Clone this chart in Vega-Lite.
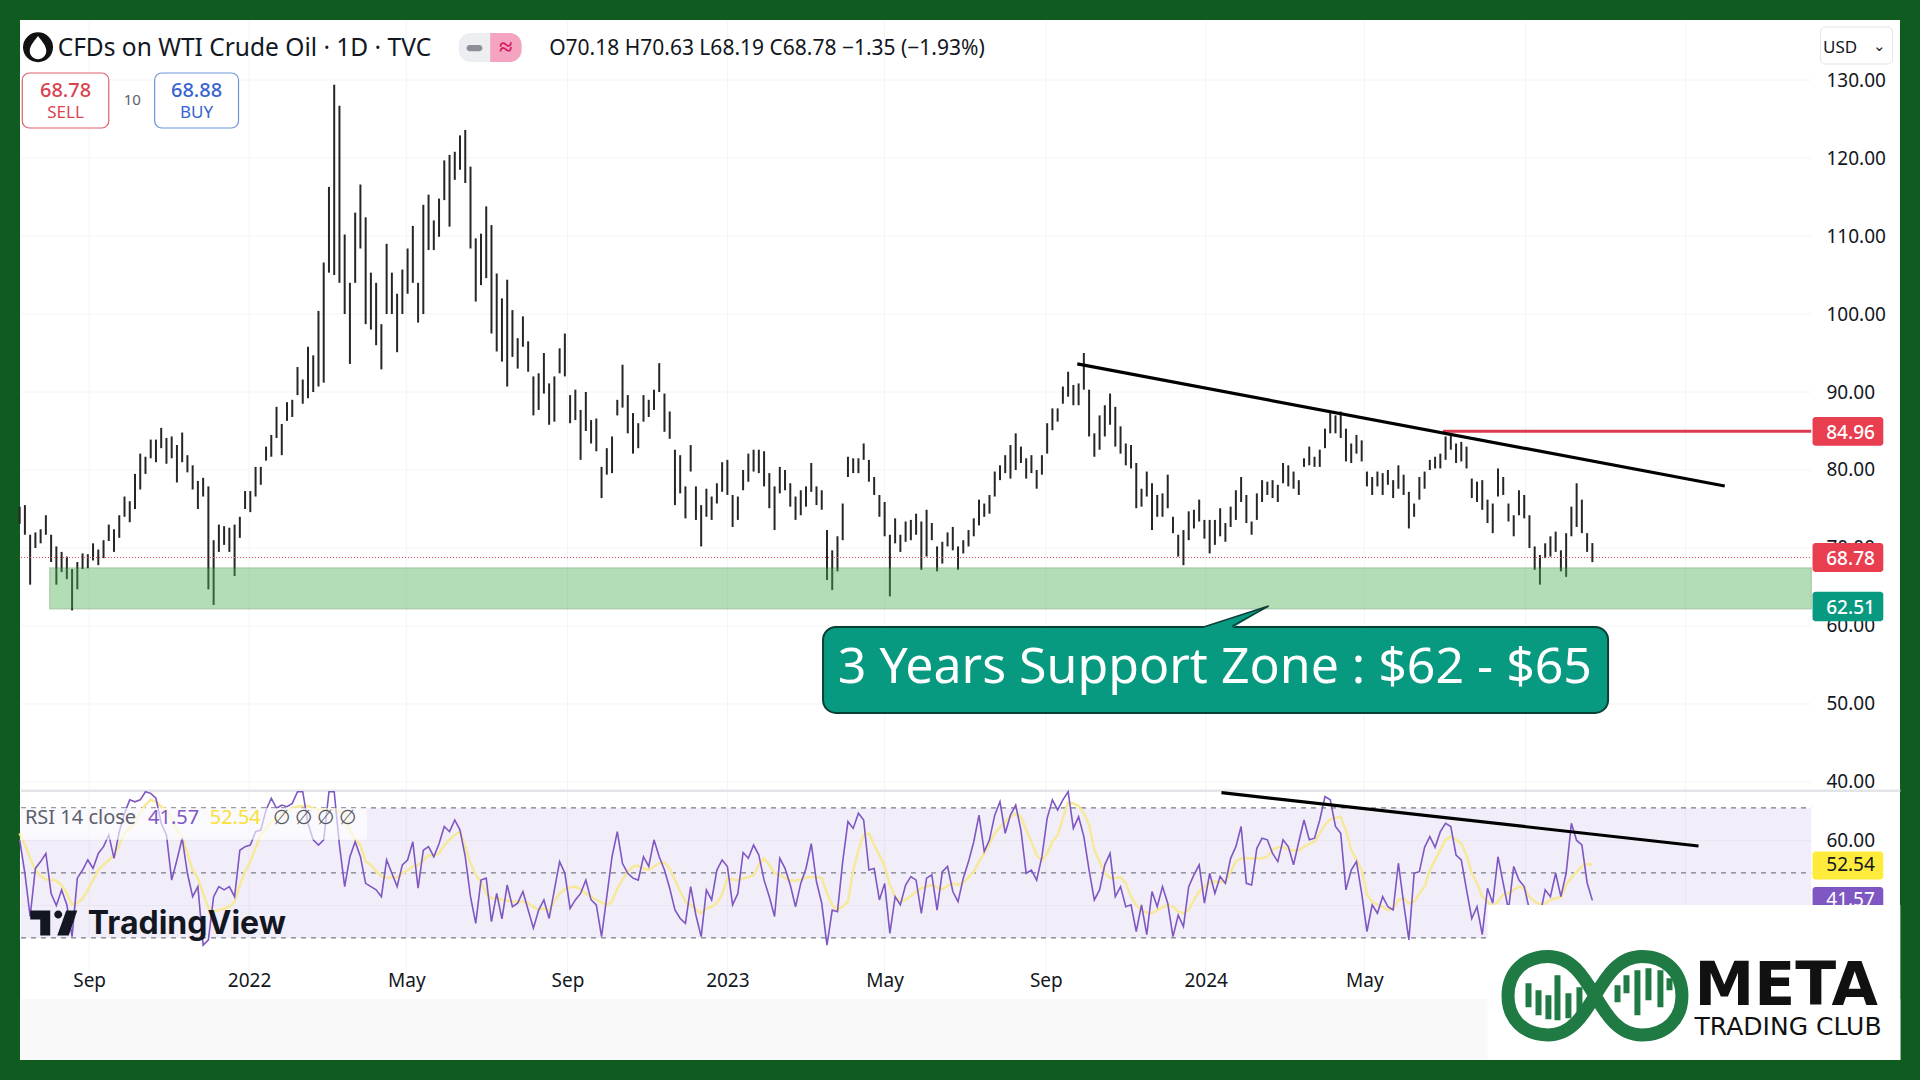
{"$schema":"https://vega.github.io/schema/vega-lite/v6.json","width":1920,"height":1080,"padding":0,"autosize":{"type":"none"},"background":"#ffffff",
"config":{"view":{"stroke":"#0f5b20","strokeWidth":40},"font":"Noto Sans"},
"datasets":{"bars":[
{"d":"2021-07-10","h":75.3,"l":73.1,"r":60.2,"m":62.2},{"d":"2021-07-14","h":75.5,"l":71.7,"r":49.9,"m":58.6},{"d":"2021-07-18","h":71.7,"l":65.3,"r":36.6,"m":54.5},{"d":"2021-07-22","h":72,"l":70,"r":51.4,"m":50.9},{"d":"2021-07-26","h":72.4,"l":70.6,"r":53.5,"m":49},{"d":"2021-07-30","h":74.2,"l":71.7,"r":56,"m":48},{"d":"2021-08-03","h":71.7,"l":68.2,"r":43.7,"m":47.9},{"d":"2021-08-07","h":70.2,"l":65.3,"r":40,"m":47.6},{"d":"2021-08-11","h":69.5,"l":66.9,"r":44.8,"m":46.3},{"d":"2021-08-15","h":68.9,"l":66,"r":40.2,"m":43.7},
{"d":"2021-08-19","h":67.3,"l":62,"r":30.4,"m":40.2},{"d":"2021-08-23","h":68.2,"l":64.7,"r":48.4,"m":40.7},{"d":"2021-08-27","h":69.3,"l":67.3,"r":50.9,"m":42.2},{"d":"2021-08-31","h":69.2,"l":67.4,"r":54,"m":44.8},{"d":"2021-09-04","h":70.6,"l":68.4,"r":51.4,"m":47.9},{"d":"2021-09-08","h":69.8,"l":67.8,"r":56,"m":50.9},{"d":"2021-09-12","h":71,"l":68.7,"r":58.1,"m":52.5},{"d":"2021-09-16","h":73,"l":70.9,"r":61.7,"m":54},{"d":"2021-09-20","h":72.4,"l":69.5,"r":54.5,"m":55.5},{"d":"2021-09-24","h":74.2,"l":71.3,"r":62.7,"m":58.6},
{"d":"2021-09-28","h":76.6,"l":74,"r":68.4,"m":62.2},{"d":"2021-10-02","h":76,"l":73.3,"r":72.5,"m":63.7},{"d":"2021-10-06","h":79.5,"l":75,"r":71.9,"m":65.3},{"d":"2021-10-10","h":82.1,"l":77.5,"r":72.5,"m":68.4},{"d":"2021-10-14","h":81.7,"l":79.5,"r":75,"m":71},{"d":"2021-10-18","h":83.9,"l":81.5,"r":74.5,"m":72.5},{"d":"2021-10-22","h":83.9,"l":81,"r":73,"m":72},{"d":"2021-10-26","h":85.4,"l":82.8,"r":65.3,"m":70.4},{"d":"2021-10-30","h":84.1,"l":80.8,"r":61.7,"m":69.4},{"d":"2021-11-03","h":84.3,"l":81.5,"r":47.8,"m":66.3},
{"d":"2021-11-07","h":83.2,"l":78.4,"r":54,"m":63.2},{"d":"2021-11-11","h":84.8,"l":81,"r":60.7,"m":61.2},{"d":"2021-11-15","h":81.9,"l":79.7,"r":49.9,"m":56},{"d":"2021-11-19","h":80.6,"l":77.5,"r":42.7,"m":50.9},{"d":"2021-11-23","h":78.6,"l":75,"r":45.8,"m":48.4},{"d":"2021-11-27","h":79,"l":76.6,"r":27.8,"m":43.7},{"d":"2021-12-01","h":77.9,"l":64.7,"r":29.4,"m":39.1},{"d":"2021-12-05","h":71,"l":62.7,"r":42.7,"m":38.1},{"d":"2021-12-09","h":73,"l":69.5,"r":45.8,"m":38.6},{"d":"2021-12-13","h":72.8,"l":70.4,"r":44.8,"m":39.1},
{"d":"2021-12-17","h":72.6,"l":69.5,"r":45.8,"m":39.6},{"d":"2021-12-21","h":73,"l":66.4,"r":42.7,"m":41.2},{"d":"2021-12-25","h":74,"l":71.3,"r":57,"m":46.3},{"d":"2021-12-29","h":77.3,"l":75,"r":58.1,"m":50.4},{"d":"2022-01-02","h":77.3,"l":74.6,"r":58.6,"m":53.5},{"d":"2022-01-06","h":80.4,"l":76.6,"r":62.7,"m":57.6},{"d":"2022-01-10","h":80.4,"l":78.1,"r":63.2,"m":61.7},{"d":"2022-01-14","h":83,"l":81.2,"r":69.4,"m":63.7},{"d":"2022-01-18","h":84.5,"l":81.7,"r":73,"m":65.8},{"d":"2022-01-22","h":88.1,"l":84.1,"r":69.9,"m":66.5},
{"d":"2022-01-26","h":85.9,"l":81.9,"r":70.9,"m":67.8},{"d":"2022-01-30","h":88.7,"l":86.3,"r":70.4,"m":68.9},{"d":"2022-02-03","h":89,"l":86.8,"r":71.4,"m":69.9},{"d":"2022-02-07","h":93.2,"l":89.6,"r":75,"m":70.4},{"d":"2022-02-11","h":91.6,"l":88.5,"r":75,"m":70.6},{"d":"2022-02-15","h":95.8,"l":89.2,"r":65.3,"m":70.6},{"d":"2022-02-19","h":94.7,"l":90,"r":60.2,"m":69.9},{"d":"2022-02-23","h":100.4,"l":90.7,"r":58.6,"m":69.4},{"d":"2022-02-27","h":106.6,"l":91.2,"r":60.2,"m":69.4},{"d":"2022-03-03","h":116.3,"l":105.3,"r":75,"m":69.6},
{"d":"2022-03-07","h":129.4,"l":105,"r":75,"m":69.4},{"d":"2022-03-11","h":126.7,"l":104,"r":58.6,"m":68.9},{"d":"2022-03-15","h":110.2,"l":100,"r":45.8,"m":68.4},{"d":"2022-03-19","h":104,"l":93.6,"r":55,"m":63.2},{"d":"2022-03-23","h":113,"l":104,"r":59.6,"m":60.2},{"d":"2022-03-27","h":116.6,"l":108.4,"r":55,"m":58.6},{"d":"2022-03-31","h":112.4,"l":98.7,"r":46.8,"m":53.5},{"d":"2022-04-04","h":105.3,"l":98,"r":45.8,"m":52.5},{"d":"2022-04-08","h":104,"l":96,"r":44.8,"m":50.4},{"d":"2022-04-12","h":98.7,"l":92.9,"r":42.7,"m":49},
{"d":"2022-04-16","h":109,"l":100,"r":54,"m":48.6},{"d":"2022-04-20","h":105.3,"l":100,"r":49.9,"m":48.6},{"d":"2022-04-24","h":102.6,"l":95.1,"r":45.8,"m":48.6},{"d":"2022-04-28","h":105.7,"l":100,"r":52.5,"m":49.9},{"d":"2022-05-02","h":108.4,"l":102.6,"r":54,"m":50.9},{"d":"2022-05-06","h":111.3,"l":104,"r":59.6,"m":52},{"d":"2022-05-10","h":104,"l":98.9,"r":45.3,"m":52.5},{"d":"2022-05-14","h":114,"l":100,"r":57,"m":54},{"d":"2022-05-18","h":115.3,"l":108.2,"r":58.1,"m":55.5},{"d":"2022-05-22","h":112,"l":108.2,"r":55,"m":55.3},
{"d":"2022-05-26","h":114.8,"l":109.9,"r":59,"m":56},{"d":"2022-05-30","h":119.7,"l":114.6,"r":64.3,"m":58.6},{"d":"2022-06-03","h":120.4,"l":111.2,"r":62.7,"m":60.2},{"d":"2022-06-07","h":120.8,"l":117.2,"r":66.3,"m":61.7},{"d":"2022-06-11","h":122.9,"l":118.5,"r":63.2,"m":62.7},{"d":"2022-06-15","h":123.6,"l":116.8,"r":55,"m":58.1},{"d":"2022-06-19","h":118.9,"l":108.4,"r":42.7,"m":52.9},{"d":"2022-06-23","h":109.7,"l":101.6,"r":34.5,"m":49.4},{"d":"2022-06-27","h":110.3,"l":103.7,"r":47.8,"m":47.3},{"d":"2022-07-01","h":113.8,"l":104.6,"r":48.4,"m":43.7},
{"d":"2022-07-05","h":111.4,"l":97.5,"r":35,"m":42.2},{"d":"2022-07-09","h":105.2,"l":95.2,"r":43.7,"m":42.2},{"d":"2022-07-13","h":102,"l":93.9,"r":35.9,"m":41.7},{"d":"2022-07-17","h":104.4,"l":90.7,"r":46.3,"m":41.5},{"d":"2022-07-21","h":100.5,"l":94.5,"r":39.6,"m":41.2},{"d":"2022-07-25","h":96.9,"l":93,"r":40.7,"m":41.2},{"d":"2022-07-29","h":99.7,"l":95.8,"r":44.3,"m":41.2},{"d":"2022-08-02","h":96.5,"l":92.6,"r":38.6,"m":40.7},{"d":"2022-08-06","h":92,"l":87,"r":33,"m":39.6},{"d":"2022-08-10","h":92.4,"l":87.7,"r":38.6,"m":38.8},
{"d":"2022-08-14","h":95,"l":89.8,"r":41.7,"m":39.1},{"d":"2022-08-18","h":91.1,"l":85.8,"r":36,"m":38.4},{"d":"2022-08-22","h":92,"l":86.2,"r":44.8,"m":41.2},{"d":"2022-08-26","h":95.6,"l":92.4,"r":53.5,"m":43.7},{"d":"2022-08-30","h":97.5,"l":92,"r":49.9,"m":45},{"d":"2022-09-03","h":89.6,"l":86,"r":39.1,"m":45.6},{"d":"2022-09-07","h":90.3,"l":86.4,"r":41.7,"m":45.8},{"d":"2022-09-11","h":87.7,"l":81.3,"r":43.7,"m":45},{"d":"2022-09-15","h":90,"l":85,"r":47.8,"m":43.7},{"d":"2022-09-19","h":86.4,"l":83.4,"r":41.7,"m":42.7},
{"d":"2022-09-23","h":86.6,"l":82.4,"r":40.2,"m":41.7},{"d":"2022-09-27","h":80.4,"l":76.4,"r":30.4,"m":40.9},{"d":"2022-10-01","h":82.8,"l":79.4,"r":42.7,"m":40.2},{"d":"2022-10-05","h":84.3,"l":79.6,"r":55,"m":41.2},{"d":"2022-10-09","h":89,"l":87,"r":62.7,"m":45.3},{"d":"2022-10-13","h":93.5,"l":88,"r":52.9,"m":48},{"d":"2022-10-17","h":89.6,"l":84.7,"r":49.9,"m":50.4},{"d":"2022-10-21","h":87.3,"l":82.1,"r":48.4,"m":52},{"d":"2022-10-25","h":86,"l":82.8,"r":47.8,"m":52.2},{"d":"2022-10-29","h":89.6,"l":86.2,"r":55,"m":51.4},
{"d":"2022-11-02","h":89,"l":86.8,"r":52,"m":50.9},{"d":"2022-11-06","h":90.3,"l":87.7,"r":60.2,"m":52},{"d":"2022-11-10","h":93.7,"l":90,"r":55,"m":53},{"d":"2022-11-14","h":89.8,"l":84.9,"r":50.9,"m":53.2},{"d":"2022-11-18","h":87.5,"l":84,"r":45.3,"m":51.4},{"d":"2022-11-22","h":82.6,"l":75.5,"r":38.6,"m":47.8},{"d":"2022-11-26","h":81.9,"l":77,"r":36,"m":44.3},{"d":"2022-11-30","h":77.9,"l":73.8,"r":34.5,"m":41.2},{"d":"2022-12-04","h":83.2,"l":79.8,"r":45.8,"m":40.2},{"d":"2022-12-08","h":77.9,"l":73.6,"r":37,"m":38.8},
{"d":"2022-12-12","h":75.5,"l":70.2,"r":30.4,"m":37.6},{"d":"2022-12-16","h":77.6,"l":74,"r":44.8,"m":39.1},{"d":"2022-12-20","h":76.6,"l":73.6,"r":41.7,"m":39.6},{"d":"2022-12-24","h":78.3,"l":75.7,"r":50.9,"m":40.7},{"d":"2022-12-28","h":81,"l":77.2,"r":54,"m":43.3},{"d":"2023-01-01","h":81.3,"l":76.8,"r":52,"m":48.4},{"d":"2023-01-05","h":76.8,"l":72.7,"r":40.2,"m":48},{"d":"2023-01-09","h":76.6,"l":73.6,"r":43.7,"m":47.8},{"d":"2023-01-13","h":80,"l":77.4,"r":56.3,"m":48.4},{"d":"2023-01-17","h":82.1,"l":78.5,"r":54.5,"m":48.7},
{"d":"2023-01-21","h":82.6,"l":79.8,"r":58.6,"m":49.4},{"d":"2023-01-25","h":82.6,"l":79.6,"r":55.5,"m":52.5},{"d":"2023-01-29","h":82.4,"l":77.9,"r":47.8,"m":54.5},{"d":"2023-02-02","h":79.6,"l":75.1,"r":42.7,"m":52.5},{"d":"2023-02-06","h":77.9,"l":72.3,"r":36.6,"m":49.9},{"d":"2023-02-10","h":80.4,"l":77,"r":54.5,"m":49.4},{"d":"2023-02-14","h":80,"l":77.4,"r":51.4,"m":48.4},{"d":"2023-02-18","h":78.3,"l":75.3,"r":46.3,"m":47.8},{"d":"2023-02-22","h":76.6,"l":73.6,"r":39.6,"m":47.6},{"d":"2023-02-26","h":77.4,"l":74.2,"r":46.8,"m":48},
{"d":"2023-03-02","h":77.9,"l":75.3,"r":51.4,"m":48.7},{"d":"2023-03-06","h":80.9,"l":77.2,"r":59,"m":48.7},{"d":"2023-03-10","h":77.9,"l":75.5,"r":47.3,"m":48.7},{"d":"2023-03-14","h":77.4,"l":74.9,"r":40.7,"m":48.4},{"d":"2023-03-18","h":72.3,"l":65.9,"r":27.8,"m":43.7},{"d":"2023-03-22","h":69.7,"l":64.6,"r":38.6,"m":40.2},{"d":"2023-03-26","h":71.5,"l":67,"r":38.1,"m":38.6},{"d":"2023-03-30","h":75.7,"l":71,"r":53.5,"m":39.6},{"d":"2023-04-03","h":81.7,"l":79.1,"r":65.8,"m":41.2},{"d":"2023-04-07","h":81.5,"l":79.6,"r":63.7,"m":50.9},
{"d":"2023-04-11","h":81.5,"l":79.6,"r":68.4,"m":57.1},{"d":"2023-04-15","h":83.4,"l":81.3,"r":66.3,"m":61.7},{"d":"2023-04-19","h":81.3,"l":78.5,"r":50.9,"m":62.2},{"d":"2023-04-23","h":79.1,"l":76.8,"r":51.4,"m":58.6},{"d":"2023-04-27","h":76.8,"l":74,"r":41.7,"m":55.5},{"d":"2023-05-01","h":75.9,"l":71.5,"r":46.8,"m":52},{"d":"2023-05-05","h":71.7,"l":63.8,"r":31.4,"m":46.3},{"d":"2023-05-09","h":73.8,"l":70.6,"r":42.7,"m":42.7},{"d":"2023-05-13","h":71.7,"l":69.5,"r":40.2,"m":41.2},{"d":"2023-05-17","h":73.4,"l":70.8,"r":46.3,"m":41.7},
{"d":"2023-05-21","h":73.6,"l":71,"r":48.9,"m":42.9},{"d":"2023-05-25","h":74.4,"l":71.7,"r":47.8,"m":44.3},{"d":"2023-05-29","h":73.4,"l":67.2,"r":37.6,"m":45.3},{"d":"2023-06-02","h":74.9,"l":68.9,"r":48.4,"m":45.8},{"d":"2023-06-06","h":73.2,"l":71,"r":49.4,"m":46.3},{"d":"2023-06-10","h":70.2,"l":67,"r":38.6,"m":45.6},{"d":"2023-06-14","h":70.8,"l":68,"r":50.4,"m":45},{"d":"2023-06-18","h":72,"l":70.2,"r":52,"m":46},{"d":"2023-06-22","h":72.7,"l":69.7,"r":44.3,"m":46.8},{"d":"2023-06-26","h":70.2,"l":67.2,"r":41.2,"m":46.3},
{"d":"2023-06-30","h":71,"l":69.3,"r":48.4,"m":47},{"d":"2023-07-04","h":72.3,"l":70.2,"r":53.5,"m":48.7},{"d":"2023-07-08","h":73.8,"l":71.5,"r":59.6,"m":50.4},{"d":"2023-07-12","h":76.2,"l":72.9,"r":67.8,"m":53.5},{"d":"2023-07-16","h":75.7,"l":74,"r":56.6,"m":56},{"d":"2023-07-20","h":76.8,"l":74.4,"r":60.2,"m":59},{"d":"2023-07-24","h":79.8,"l":76.6,"r":67.8,"m":62.2},{"d":"2023-07-28","h":80.6,"l":78.7,"r":71.9,"m":64.1},{"d":"2023-08-01","h":81.9,"l":79.6,"r":62.2,"m":65.8},{"d":"2023-08-05","h":83.2,"l":78.9,"r":67.8,"m":67.3},
{"d":"2023-08-09","h":84.7,"l":80,"r":70.9,"m":68.2},{"d":"2023-08-13","h":83,"l":80.9,"r":63.2,"m":67.3},{"d":"2023-08-17","h":81.5,"l":78.9,"r":49.9,"m":63.2},{"d":"2023-08-21","h":81.9,"l":79.6,"r":50.9,"m":59.6},{"d":"2023-08-25","h":80,"l":77.6,"r":47.8,"m":55.5},{"d":"2023-08-29","h":81.9,"l":79.4,"r":55,"m":53.8},{"d":"2023-09-02","h":86,"l":82.1,"r":66.8,"m":56},{"d":"2023-09-06","h":87.9,"l":85.1,"r":72.5,"m":59.6},{"d":"2023-09-10","h":87.9,"l":86.2,"r":69.4,"m":61.7},{"d":"2023-09-14","h":90.7,"l":88.5,"r":72.5,"m":66.8},
{"d":"2023-09-18","h":92.6,"l":89.4,"r":75,"m":71.6},{"d":"2023-09-22","h":90.9,"l":88.3,"r":63.7,"m":71.4},{"d":"2023-09-26","h":91.1,"l":88.3,"r":67.3,"m":70.6},{"d":"2023-09-30","h":95,"l":90.3,"r":61.2,"m":68.4},{"d":"2023-10-04","h":90.3,"l":84.3,"r":50.9,"m":64.8},{"d":"2023-10-08","h":84.7,"l":81.7,"r":41.7,"m":57.1},{"d":"2023-10-12","h":87,"l":82.6,"r":44.8,"m":53.5},{"d":"2023-10-16","h":88.3,"l":84.3,"r":52.5,"m":49.9},{"d":"2023-10-20","h":89.8,"l":85.8,"r":56,"m":48.4},{"d":"2023-10-24","h":88.1,"l":83,"r":42.7,"m":48.4},
{"d":"2023-10-28","h":85.6,"l":82.1,"r":45.8,"m":48.7},{"d":"2023-11-01","h":83.4,"l":80.6,"r":39.6,"m":46.8},{"d":"2023-11-05","h":83.2,"l":80.2,"r":40.2,"m":42.7},{"d":"2023-11-09","h":80.9,"l":75.1,"r":32,"m":40.2},{"d":"2023-11-13","h":77.6,"l":75.3,"r":40.2,"m":38.6},{"d":"2023-11-17","h":79.8,"l":76.6,"r":31,"m":37.8},{"d":"2023-11-21","h":78.3,"l":72.3,"r":44.3,"m":37.6},{"d":"2023-11-25","h":76.8,"l":74,"r":39.6,"m":38.6},{"d":"2023-11-29","h":77,"l":74,"r":45.8,"m":39.4},{"d":"2023-12-03","h":79.4,"l":75.1,"r":40.7,"m":40.2},
{"d":"2023-12-07","h":74,"l":71.9,"r":30.4,"m":39.6},{"d":"2023-12-11","h":71.7,"l":68.9,"r":37,"m":38.1},{"d":"2023-12-15","h":72.3,"l":67.8,"r":33.5,"m":37.6},{"d":"2023-12-19","h":74.7,"l":71,"r":45.8,"m":38.6},{"d":"2023-12-23","h":74.9,"l":72.5,"r":49.4,"m":41.7},{"d":"2023-12-27","h":76.2,"l":73.4,"r":52.5,"m":44.3},{"d":"2023-12-31","h":73.6,"l":71.2,"r":40.7,"m":45.8},{"d":"2024-01-04","h":73.6,"l":69.3,"r":49.9,"m":47},{"d":"2024-01-08","h":73.6,"l":70.4,"r":43.7,"m":47.4},{"d":"2024-01-12","h":75.1,"l":71.5,"r":48.9,"m":47.2},
{"d":"2024-01-16","h":73.2,"l":70.8,"r":46.8,"m":47.2},{"d":"2024-01-20","h":75.3,"l":72.7,"r":54.5,"m":50.4},{"d":"2024-01-24","h":77.4,"l":73.6,"r":58.1,"m":53.5},{"d":"2024-01-28","h":79.1,"l":75.9,"r":64.3,"m":54.5},{"d":"2024-02-01","h":76.8,"l":73.2,"r":46.8,"m":54.5},{"d":"2024-02-05","h":73.4,"l":71.7,"r":46.3,"m":54.5},{"d":"2024-02-09","h":77,"l":73.6,"r":57.6,"m":54.5},{"d":"2024-02-13","h":78.7,"l":75.9,"r":60.7,"m":54.5},{"d":"2024-02-17","h":78.5,"l":76.8,"r":60.2,"m":55},{"d":"2024-02-21","h":78.7,"l":76.4,"r":56,"m":57.1},
{"d":"2024-02-25","h":78.1,"l":75.9,"r":53.5,"m":57.9},{"d":"2024-02-29","h":80.9,"l":78.3,"r":60.2,"m":57.9},{"d":"2024-03-04","h":80.6,"l":77.9,"r":58.1,"m":57.3},{"d":"2024-03-08","h":79.8,"l":77.6,"r":52.5,"m":56.9},{"d":"2024-03-12","h":78.7,"l":76.8,"r":59.6,"m":56.9},{"d":"2024-03-16","h":81.5,"l":80.4,"r":66.3,"m":58.1},{"d":"2024-03-20","h":83,"l":80.6,"r":60.2,"m":59},{"d":"2024-03-24","h":81.7,"l":80.4,"r":60.7,"m":59.6},{"d":"2024-03-28","h":82.6,"l":80.4,"r":66.3,"m":62.2},{"d":"2024-04-01","h":85.3,"l":82.8,"r":73.5,"m":64.8},
{"d":"2024-04-05","h":87.3,"l":84.7,"r":72.5,"m":66.5},{"d":"2024-04-09","h":87,"l":84.7,"r":64.3,"m":66.9},{"d":"2024-04-13","h":87.5,"l":84.1,"r":62.2,"m":67.3},{"d":"2024-04-17","h":85.3,"l":81.1,"r":44.8,"m":63},{"d":"2024-04-21","h":83.4,"l":80.9,"r":50.9,"m":57.1},{"d":"2024-04-25","h":84.5,"l":82.1,"r":53.5,"m":54},{"d":"2024-04-29","h":83.8,"l":81.1,"r":43.7,"m":50.9},{"d":"2024-05-03","h":79.8,"l":77.9,"r":32,"m":43.3},{"d":"2024-05-07","h":79.1,"l":76.8,"r":40.2,"m":41.2},{"d":"2024-05-11","h":79.8,"l":77.9,"r":37.6,"m":40.2},
{"d":"2024-05-15","h":79.6,"l":76.8,"r":42.7,"m":39.6},{"d":"2024-05-19","h":80,"l":78.1,"r":39.6,"m":38.6},{"d":"2024-05-23","h":78.7,"l":76.4,"r":38.6,"m":39.1},{"d":"2024-05-27","h":80.6,"l":77.6,"r":53,"m":41.7},{"d":"2024-05-31","h":79.4,"l":76.8,"r":40.7,"m":42.2},{"d":"2024-06-04","h":77.2,"l":72.5,"r":29.4,"m":40.7},{"d":"2024-06-08","h":75.7,"l":74,"r":49.9,"m":41.2},{"d":"2024-06-12","h":79.1,"l":76.2,"r":50.4,"m":43.7},{"d":"2024-06-16","h":79.8,"l":77.6,"r":57.9,"m":45.8},{"d":"2024-06-20","h":81.3,"l":80,"r":61.2,"m":50.9},
{"d":"2024-06-24","h":81.7,"l":80.2,"r":57.9,"m":54},{"d":"2024-06-28","h":82.1,"l":80.2,"r":62.7,"m":57.1},{"d":"2024-07-02","h":84.3,"l":81.3,"r":65.3,"m":60.2},{"d":"2024-07-06","h":84.7,"l":82.6,"r":64.3,"m":61.2},{"d":"2024-07-10","h":83.4,"l":80.9,"r":55.5,"m":60.2},{"d":"2024-07-14","h":83.6,"l":81.1,"r":54,"m":59},{"d":"2024-07-18","h":83,"l":80.2,"r":44.8,"m":55.5},{"d":"2024-07-22","h":78.9,"l":76.4,"r":36,"m":49.9},{"d":"2024-07-26","h":78.5,"l":75.9,"r":39.6,"m":46.8},{"d":"2024-07-30","h":78.7,"l":74.9,"r":31,"m":42.7},
{"d":"2024-08-03","h":76.2,"l":73.2,"r":45.3,"m":41.2},{"d":"2024-08-07","h":75.7,"l":71.9,"r":40.7,"m":39.6},{"d":"2024-08-11","h":80.2,"l":76.6,"r":55,"m":41.2},{"d":"2024-08-15","h":79.1,"l":76.8,"r":46.8,"m":43.3},{"d":"2024-08-19","h":75.7,"l":73.4,"r":38.6,"m":43.7},{"d":"2024-08-23","h":74.2,"l":71.5,"r":52,"m":44.8},{"d":"2024-08-27","h":77.4,"l":74.2,"r":47.8,"m":45.8},{"d":"2024-08-31","h":76.8,"l":73.8,"r":45.8,"m":45.3},{"d":"2024-09-04","h":74.2,"l":70,"r":38.6,"m":42.7},{"d":"2024-09-08","h":70.2,"l":67.2,"r":36,"m":41.2},
{"d":"2024-09-12","h":69.1,"l":65.3,"r":37,"m":40.4},{"d":"2024-09-16","h":70.6,"l":68.7,"r":44.8,"m":40.6},{"d":"2024-09-20","h":71.5,"l":68.9,"r":42.7,"m":41.7},{"d":"2024-09-24","h":72.1,"l":69.5,"r":49.9,"m":42.2},{"d":"2024-09-28","h":69.7,"l":67,"r":42.7,"m":42.5},{"d":"2024-10-02","h":71.9,"l":66.3,"r":49.9,"m":46.3},{"d":"2024-10-06","h":75.3,"l":71.5,"r":65.3,"m":48.6},{"d":"2024-10-10","h":78.3,"l":72.7,"r":60,"m":50.4},{"d":"2024-10-14","h":76.2,"l":71.9,"r":58.6,"m":52},{"d":"2024-10-18","h":71.9,"l":69.5,"r":47,"m":52.8},
{"d":"2024-10-22","h":70.63,"l":68.19,"r":41.57,"m":52.54}]},
"encoding":{"x":{"field":"d","type":"temporal","scale":{"domain":["2021-06-25","2025-06-29"]},"axis":{"orient":"bottom","offset":-112,"title":null,"grid":false,"ticks":false,"domain":false,"labelPadding":3,"labelFont":"Noto Sans","labelFontSize":19,"labelColor":"#131722","labelOverlap":false,"values":["2021-09-01","2022-01-01","2022-05-01","2022-09-01","2023-01-01","2023-05-01","2023-09-01","2024-01-01","2024-05-01"],"labelExpr":"month(datum.value)==0?timeFormat(datum.value,'%Y'):timeFormat(datum.value,'%b')"}}},
"layer":[
{"encoding":{"y":{"field":"p","type":"quantitative","scale":{"domain":[-13.7,318.6]},"axis":{"orient":"right","offset":-108,"title":null,"grid":false,"ticks":false,"domain":false,"labelPadding":14,"labelFont":"Noto Sans","labelFontSize":19,"labelColor":"#131722","values":[60],"format":".2f"}}},
"layer":[
{"data":{"values":[{"d":"2021-07-11","d2":"2025-06-14","p":11.2,"p2":-7.5}]},"mark":{"type":"rect","color":"#f9f9fa"},"encoding":{"x2":{"field":"d2"},"y2":{"field":"p2"}}},
{"data":{"values":[{"d":"2021-09-01","p":312,"p2":18.6},{"d":"2022-01-01","p":312,"p2":18.6},{"d":"2022-05-01","p":312,"p2":18.6},{"d":"2022-09-01","p":312,"p2":18.6},{"d":"2023-01-01","p":312,"p2":18.6},{"d":"2023-05-01","p":312,"p2":18.6},{"d":"2023-09-01","p":312,"p2":18.6},{"d":"2024-01-01","p":312,"p2":18.6},{"d":"2024-05-01","p":312,"p2":18.6},{"d":"2024-09-01","p":312,"p2":18.6},{"d":"2025-01-01","p":312,"p2":18.6}]},"mark":{"type":"rule","color":"#f3f4f6","strokeWidth":1},"encoding":{"y2":{"field":"p2"}}},
{"data":{"values":[{"d":"2021-07-11","d2":"2025-04-07","p":70,"p2":30}]},"mark":{"type":"rect","color":"#7e57c2","opacity":0.1},"encoding":{"x2":{"field":"d2"},"y2":{"field":"p2"}}},
{"data":{"values":[{"d":"2021-07-11","d2":"2025-04-07","p":60},{"d":"2021-07-11","d2":"2025-04-07","p":40}]},"mark":{"type":"rule","color":"#e9e6f0","strokeWidth":1},"encoding":{"x2":{"field":"d2"}}},
{"data":{"values":[{"d":"2021-07-11","d2":"2025-04-07","p":70},{"d":"2021-07-11","d2":"2025-04-07","p":50},{"d":"2021-07-11","d2":"2025-04-07","p":30}]},"mark":{"type":"rule","color":"#787b86","strokeWidth":1.2,"strokeDash":[5,5]},"encoding":{"x2":{"field":"d2"}}},
{"data":{"values":[{"d":"2021-07-11","d2":"2025-06-14","p":75.3}]},"mark":{"type":"rule","color":"#e3e4e8","strokeWidth":2.5},"encoding":{"x2":{"field":"d2"}}},
{"data":{"name":"bars"},"mark":{"type":"line","color":"#f6e99c","strokeWidth":2.6},"encoding":{"y":{"field":"m","type":"quantitative","scale":{"domain":[-13.7,318.6]},"axis":{"orient":"right","offset":-108,"title":null,"grid":false,"ticks":false,"domain":false,"labelPadding":14,"labelFont":"Noto Sans","labelFontSize":19,"labelColor":"#131722","values":[60],"format":".2f"}}}},
{"data":{"name":"bars"},"mark":{"type":"line","color":"#7e57c2","strokeWidth":1.6},"encoding":{"y":{"field":"r","type":"quantitative","scale":{"domain":[-13.7,318.6]},"axis":{"orient":"right","offset":-108,"title":null,"grid":false,"ticks":false,"domain":false,"labelPadding":14,"labelFont":"Noto Sans","labelFontSize":19,"labelColor":"#131722","values":[60],"format":".2f"}}}},
{"data":{"values":[{"d":"2024-01-13","p":74.7},{"d":"2025-01-11","p":58.3}]},"mark":{"type":"line","color":"#000000","strokeWidth":3.2}},
{"data":{"values":[{"d":"2021-07-11","d2":"2022-04-01","p":70,"p2":60.2}]},"mark":{"type":"rect","color":"#ffffff","opacity":0.62},"encoding":{"x2":{"field":"d2"},"y2":{"field":"p2"}}},
{"data":{"values":[{"d":"2021-07-14","p":66.9,"t":"RSI 14 close"}]},"mark":{"type":"text","align":"left","baseline":"middle","fontSize":20,"color":"#5d606b"},"encoding":{"text":{"field":"t"}}},
{"data":{"values":[{"d":"2021-10-16","p":66.9,"t":"41.57"}]},"mark":{"type":"text","align":"left","baseline":"middle","fontSize":20,"color":"#7e57c2"},"encoding":{"text":{"field":"t"}}},
{"data":{"values":[{"d":"2021-12-02","p":66.9,"t":"52.54"}]},"mark":{"type":"text","align":"left","baseline":"middle","fontSize":20,"color":"#f7e23a"},"encoding":{"text":{"field":"t"}}},
{"data":{"values":[{"d":"2022-01-19","p":66.9,"t":"∅ ∅ ∅ ∅"}]},"mark":{"type":"text","align":"left","baseline":"middle","fontSize":20,"color":"#555862"},"encoding":{"text":{"field":"t"}}},
{"data":{"values":[{"d":"2025-04-08","d2":"2025-06-01","p":56.6,"p2":48}]},"mark":{"type":"rect","color":"#ffeb3b","cornerRadius":3},"encoding":{"x2":{"field":"d2"},"y2":{"field":"p2"}}},
{"data":{"values":[{"d":"2025-04-08","d2":"2025-06-01","p":45.7,"p2":37.4}]},"mark":{"type":"rect","color":"#7e57c2","cornerRadius":3},"encoding":{"x2":{"field":"d2"},"y2":{"field":"p2"}}},
{"data":{"values":[{"d":"2025-05-07","p":52.3,"t":"52.54"}]},"mark":{"type":"text","align":"center","baseline":"middle","fontSize":19,"color":"#131722"},"encoding":{"text":{"field":"t"}}},
{"data":{"values":[{"d":"2025-05-07","p":41.57,"t":"41.57"}]},"mark":{"type":"text","align":"center","baseline":"middle","fontSize":19,"color":"#ffffff"},"encoding":{"text":{"field":"t"}}},
{"data":{"values":[{"d":"2021-08-05","p":34.6}]},"mark":{"type":"point","filled":true,"size":2209,"opacity":1,"color":"#131722","strokeWidth":0,"shape":"M-1,-0.532 L-0.149,-0.532 L-0.149,0.532 L-0.574,0.532 L-0.574,-0.149 L-1,-0.149 Z M0.021,-0.362 a0.17,0.17 0 1,0 0.34,0 a0.17,0.17 0 1,0 -0.34,0 Z M0.532,-0.532 L1,-0.532 L0.638,0.532 L0.149,0.532 Z"}},
{"data":{"values":[{"d":"2021-08-31","p":34.4,"t":"TradingView"}]},"mark":{"type":"text","align":"left","baseline":"middle","fontSize":32,"font":"Inter","fontWeight":700,"color":"#131722"},"encoding":{"text":{"field":"t"}}}
]},
{"encoding":{"y":{"field":"p","type":"quantitative","scale":{"domain":[1.79,140.26]},"axis":{"orient":"right","offset":-108,"title":null,"grid":false,"ticks":false,"domain":false,"labelPadding":14,"labelFont":"Noto Sans","labelFontSize":19,"labelColor":"#131722","values":[40,50,60,70,80,90,100,110,120,130],"format":".2f"}}},
"layer":[
{"data":{"values":[{"d":"2021-07-11","d2":"2025-04-07","p":40},{"d":"2021-07-11","d2":"2025-04-07","p":50},{"d":"2021-07-11","d2":"2025-04-07","p":60},{"d":"2021-07-11","d2":"2025-04-07","p":70},{"d":"2021-07-11","d2":"2025-04-07","p":80},{"d":"2021-07-11","d2":"2025-04-07","p":90},{"d":"2021-07-11","d2":"2025-04-07","p":100},{"d":"2021-07-11","d2":"2025-04-07","p":110},{"d":"2021-07-11","d2":"2025-04-07","p":120},{"d":"2021-07-11","d2":"2025-04-07","p":130}]},"mark":{"type":"rule","color":"#f3f4f6","strokeWidth":1},"encoding":{"x2":{"field":"d2"}}},
{"data":{"name":"bars"},"mark":{"type":"rule","color":"#262626","strokeWidth":2},"encoding":{"y":{"field":"h","type":"quantitative","scale":{"domain":[1.79,140.26]},"axis":{"orient":"right","offset":-108,"title":null,"grid":false,"ticks":false,"domain":false,"labelPadding":14,"labelFont":"Noto Sans","labelFontSize":19,"labelColor":"#131722","values":[40,50,60,70,80,90,100,110,120,130],"format":".2f"}},"y2":{"field":"l"}}},
{"data":{"values":[{"d":"2021-07-11","d2":"2025-04-07","p":68.78}]},"mark":{"type":"rule","color":"#d9434f","strokeWidth":1,"strokeDash":[1,2]},"encoding":{"x2":{"field":"d2"}}},
{"data":{"values":[{"d":"2021-08-02","d2":"2025-04-07","p":67.45,"p2":62.2}]},"mark":{"type":"rect","color":"#4caf50","opacity":0.42,"stroke":"#2e7d32","strokeWidth":1.5,"strokeOpacity":0.8},"encoding":{"x2":{"field":"d2"},"y2":{"field":"p2"}}},
{"data":{"values":[{"d":"2024-06-30","d2":"2025-04-07","p":84.96}]},"mark":{"type":"rule","color":"#dc3a50","strokeWidth":3},"encoding":{"x2":{"field":"d2"}}},
{"data":{"values":[{"d":"2023-09-25","p":93.6},{"d":"2025-01-31","p":77.95}]},"mark":{"type":"line","color":"#000000","strokeWidth":3.2}},
{"data":{"values":[{"d":"2025-04-08","d2":"2025-06-01","p":86.81,"p2":83.11}]},"mark":{"type":"rect","color":"#e83e50","cornerRadius":3},"encoding":{"x2":{"field":"d2"},"y2":{"field":"p2"}}},
{"data":{"values":[{"d":"2025-04-08","d2":"2025-06-01","p":70.63,"p2":66.93}]},"mark":{"type":"rect","color":"#e83e50","cornerRadius":3},"encoding":{"x2":{"field":"d2"},"y2":{"field":"p2"}}},
{"data":{"values":[{"d":"2025-04-08","d2":"2025-06-01","p":64.4,"p2":60.6}]},"mark":{"type":"rect","color":"#089981","cornerRadius":3},"encoding":{"x2":{"field":"d2"},"y2":{"field":"p2"}}},
{"data":{"values":[{"d":"2025-05-07","p":84.8,"t":"84.96"},{"d":"2025-05-07","p":68.62,"t":"68.78"},{"d":"2025-05-07","p":62.35,"t":"62.51"}]},"mark":{"type":"text","align":"center","baseline":"middle","fontSize":19,"fontWeight":500,"color":"#ffffff"},"encoding":{"text":{"field":"t"}}},
{"data":{"values":[{"d":"2023-03-15","d2":"2024-11-03","p":59.87,"p2":48.85}]},"mark":{"type":"rect","color":"#089981","cornerRadius":13,"stroke":"#0a3f36","strokeWidth":2},"encoding":{"x2":{"field":"d2"},"y2":{"field":"p2"}}},
{"data":{"values":[{"d":"2023-12-31","p":59.9,"p2":59.7},{"d":"2024-01-21","p":61,"p2":59.7},{"d":"2024-02-18","p":62.56,"p2":62.56}]},"mark":{"type":"area","color":"#089981"}, "encoding":{"y2":{"field":"p2"}}},
{"data":{"values":[{"d":"2023-12-31","p":59.9},{"d":"2024-02-18","p":62.56},{"d":"2024-01-21","p":59.95}]},"mark":{"type":"line","color":"#0a3f36","strokeWidth":1.5,"order":false}},
{"data":{"values":[{"d":"2024-01-08","p":54.6,"t":"3 Years Support Zone : $62 - $65"}]},"mark":{"type":"text","align":"center","baseline":"middle","fontSize":50,"color":"#ffffff"},"encoding":{"text":{"field":"t"}}},
{"data":{"values":[{"d":"2021-07-24","p":134.2}]},"mark":{"type":"point","shape":"circle","filled":true,"size":900,"opacity":1,"color":"#111111","strokeWidth":0}},
{"data":{"values":[{"d":"2021-07-24","p":134.2}]},"mark":{"type":"point","filled":true,"size":900,"opacity":1,"color":"#ffffff","strokeWidth":0,"shape":"M0,-0.75 C0.35,-0.3 0.55,-0.05 0.55,0.25 A0.55,0.55 0 0 1 -0.55,0.25 C-0.55,-0.05 -0.35,-0.3 0,-0.75 Z"}},
{"data":{"values":[{"d":"2021-08-08","p":134,"t":"CFDs on WTI Crude Oil · 1D · TVC"}]},"mark":{"type":"text","align":"left","baseline":"middle","fontSize":24.5,"color":"#131722"},"encoding":{"text":{"field":"t"}}},
{"data":{"values":[{"d":"2022-06-10","d2":"2022-07-28","p":136.03,"p2":132.3}]},"mark":{"type":"rect","color":"#eceef2","cornerRadius":12},"encoding":{"x2":{"field":"d2"},"y2":{"field":"p2"}}},
{"data":{"values":[{"d":"2022-07-04","d2":"2022-07-28","p":136.03,"p2":132.3}]},"mark":{"type":"rect","color":"#f4a3c0","cornerRadiusTopRight":12,"cornerRadiusBottomRight":12},"encoding":{"x2":{"field":"d2"},"y2":{"field":"p2"}}},
{"data":{"values":[{"d":"2022-06-16","d2":"2022-06-28","p":134.5,"p2":133.7}]},"mark":{"type":"rect","color":"#8c8f98","cornerRadius":3},"encoding":{"x2":{"field":"d2"},"y2":{"field":"p2"}}},
{"data":{"values":[{"d":"2022-07-16","p":134.1,"t":"≈"}]},"mark":{"type":"text","align":"center","baseline":"middle","fontSize":24,"fontWeight":700,"color":"#d81b60"},"encoding":{"text":{"field":"t"}}},
{"data":{"values":[{"d":"2022-08-18","p":134,"t":"O70.18  H70.63  L68.19  C68.78  −1.35 (−1.93%)"}]},"mark":{"type":"text","align":"left","baseline":"middle","fontSize":21,"color":"#131722"},"encoding":{"text":{"field":"t"}}},
{"data":{"values":[{"d":"2025-04-14","d2":"2025-06-08","p":136.8,"p2":132.05}]},"mark":{"type":"rect","fill":"#ffffff","stroke":"#e0e3eb","strokeWidth":1,"cornerRadius":5},"encoding":{"x2":{"field":"d2"},"y2":{"field":"p2"}}},
{"data":{"values":[{"d":"2025-04-29","p":134.1,"t":"USD"}]},"mark":{"type":"text","align":"center","baseline":"middle","fontSize":17,"color":"#131722"},"encoding":{"text":{"field":"t"}}},
{"data":{"values":[{"d":"2025-05-29","p":134.4,"t":"⌄"}]},"mark":{"type":"text","align":"center","baseline":"middle","fontSize":15,"font":"DejaVu Sans","color":"#131722"},"encoding":{"text":{"field":"t"}}},
{"data":{"values":[{"d":"2021-07-12","d2":"2021-09-16","p":130.9,"p2":123.85}]},"mark":{"type":"rect","fill":"#ffffff","stroke":"#e0606e","strokeWidth":1.2,"cornerRadius":7},"encoding":{"x2":{"field":"d2"},"y2":{"field":"p2"}}},
{"data":{"values":[{"d":"2021-10-21","d2":"2021-12-24","p":130.9,"p2":123.85}]},"mark":{"type":"rect","fill":"#ffffff","stroke":"#6f95d8","strokeWidth":1.2,"cornerRadius":7},"encoding":{"x2":{"field":"d2"},"y2":{"field":"p2"}}},
{"data":{"values":[{"d":"2021-08-14","p":128.6,"t":"68.78"}]},"mark":{"type":"text","align":"center","baseline":"middle","fontSize":20,"fontWeight":500,"color":"#d9434f"},"encoding":{"text":{"field":"t"}}},
{"data":{"values":[{"d":"2021-08-14","p":125.8,"t":"SELL"}]},"mark":{"type":"text","align":"center","baseline":"middle","fontSize":17,"color":"#d9434f"},"encoding":{"text":{"field":"t"}}},
{"data":{"values":[{"d":"2021-11-22","p":128.6,"t":"68.88"}]},"mark":{"type":"text","align":"center","baseline":"middle","fontSize":20,"fontWeight":500,"color":"#3564cf"},"encoding":{"text":{"field":"t"}}},
{"data":{"values":[{"d":"2021-11-22","p":125.8,"t":"BUY"}]},"mark":{"type":"text","align":"center","baseline":"middle","fontSize":17,"color":"#3564cf"},"encoding":{"text":{"field":"t"}}},
{"data":{"values":[{"d":"2021-10-04","p":127.4,"t":"10"}]},"mark":{"type":"text","align":"center","baseline":"middle","fontSize":15,"color":"#5d606b"},"encoding":{"text":{"field":"t"}}},
{"data":{"values":[{"d":"2024-08-03","d2":"2025-06-14","p":24.23,"p2":4.36}]},"mark":{"type":"rect","color":"#ffffff"},"encoding":{"x2":{"field":"d2"},"y2":{"field":"p2"}}},
{"data":{"values":[{"d":"2024-10-24","p":12.6}]},"mark":{"type":"point","filled":false,"size":34969,"opacity":1,"stroke":"#1f7a43","strokeWidth":13,"shape":"M-0.5,-0.42 C-0.25,-0.42 -0.12,-0.2 0,0 C0.12,0.2 0.25,0.42 0.5,0.42 C0.76,0.42 0.93,0.25 0.93,0 C0.93,-0.25 0.76,-0.42 0.5,-0.42 C0.25,-0.42 0.12,-0.2 0,0 C-0.12,0.2 -0.25,0.42 -0.5,0.42 C-0.76,0.42 -0.93,0.25 -0.93,0 C-0.93,-0.25 -0.76,-0.42 -0.5,-0.42 Z"}},
{"data":{"values":[{"d":"2024-10-24","p":12.6}]},"mark":{"type":"point","filled":true,"size":34969,"opacity":1,"color":"#1f7a43","strokeWidth":0,"shape":"M-0.743,-0.134 h0.064 v0.257 h-0.064 Z M-0.636,-0.059 h0.064 v0.268 h-0.064 Z M-0.53,-0.005 h0.064 v0.256 h-0.064 Z M-0.433,-0.219 h0.064 v0.481 h-0.064 Z M-0.316,-0.027 h0.064 v0.268 h-0.064 Z M-0.198,-0.091 h0.064 v0.267 h-0.064 Z M0.209,-0.112 h0.064 v0.182 h-0.064 Z M0.305,-0.219 h0.064 v0.193 h-0.064 Z M0.422,-0.273 h0.064 v0.481 h-0.064 Z M0.54,-0.294 h0.064 v0.342 h-0.064 Z M0.668,-0.273 h0.064 v0.396 h-0.064 Z M0.765,-0.187 h0.064 v0.128 h-0.064 Z"}},
{"data":{"values":[{"d":"2025-01-08","p":13.7,"t":"META"}]},"mark":{"type":"text","align":"left","baseline":"middle","fontSize":60,"font":"DejaVu Sans","fontWeight":700,"color":"#111111"},"encoding":{"text":{"field":"t"}}},
{"data":{"values":[{"d":"2025-01-08","p":8.6,"t":"TRADING CLUB"}]},"mark":{"type":"text","align":"left","baseline":"middle","fontSize":25,"font":"DejaVu Sans","color":"#111111"},"encoding":{"text":{"field":"t"}}}
]}
],
"resolve":{"scale":{"y":"independent"},"axis":{"y":"independent"}}}
